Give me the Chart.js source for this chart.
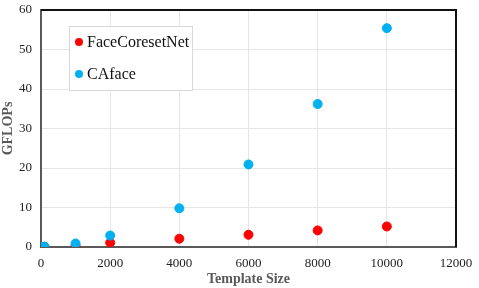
<!DOCTYPE html>
<html>
<head>
<meta charset="utf-8">
<script src="https://cdn.jsdelivr.net/npm/chart.js@4"></script>
<style>
  html, body { margin: 0; padding: 0; background: #fff; }
  #wrap { width: 479px; height: 288px; }
</style>
</head>
<body>
<div id="wrap"><canvas id="gflopsChart" width="479" height="288"></canvas></div>
<script>
// ==================== DATA ====================
const templateSizes = [1, 100, 1000, 2000, 4000, 6000, 8000, 10000];
const coresetGflops = [0.0, 0.05, 0.3, 1.1, 2.1, 3.1, 4.2, 5.2];
const cafaceGflops  = [0.0, 0.1, 0.9, 2.9, 9.8, 20.9, 36.2, 55.4];
const seriesNames = ['FaceCoresetNet', 'CAface'];
const seriesColors = ['#ff0000', '#00b0f0'];

const toPoints = (ys) => templateSizes.map((x, i) => ({ x: x, y: ys[i] }));

// ==================== PLUGINS ====================
// black frame on top/right of the plot area
const frame = {
    id: 'frame',
    beforeDatasetsDraw(chart) {
        const { ctx, chartArea: a } = chart;
        ctx.save();
        ctx.strokeStyle = '#111';
        ctx.lineWidth = 2;
        ctx.beginPath();
        ctx.moveTo(a.left, a.top);
        ctx.lineTo(a.right, a.top);
        ctx.lineTo(a.right, a.bottom);
        ctx.stroke();
        ctx.restore();
    }
};

// legend box inside the plot area
const boxLegend = {
    id: 'boxLegend',
    afterDraw(chart) {
        const { ctx } = chart;
        const x = 69, y = 26, w = 123, h = 64;
        ctx.save();
        ctx.fillStyle = '#fff';
        ctx.fillRect(x, y, w, h);
        ctx.strokeStyle = '#d9d9d9';
        ctx.lineWidth = 1;
        ctx.strokeRect(x + 0.5, y + 0.5, w, h);
        ctx.font = '16px "Liberation Serif", "Times New Roman", serif';
        ctx.textBaseline = 'middle';
        chart.data.datasets.forEach((ds, i) => {
            const cy = y + 16 + i * 32;
            ctx.fillStyle = ds.backgroundColor;
            ctx.beginPath();
            ctx.arc(x + 10, cy, 4, 0, Math.PI * 2);
            ctx.fill();
            ctx.fillStyle = '#111';
            ctx.fillText(ds.label, x + 18, cy + 1);
        });
        ctx.restore();
    }
};

// ==================== CHART ====================
const tickFont = { family: '"Liberation Serif", "Times New Roman", serif', size: 13 };
const titleFont = { family: '"Liberation Serif", "Times New Roman", serif', size: 14, weight: 'bold' };

const ctx = document.getElementById('gflopsChart').getContext('2d');
const gflopsChart = new Chart(ctx, {
    type: 'scatter',
    data: {
        datasets: [
            { label: seriesNames[0], data: toPoints(coresetGflops), order: 1, backgroundColor: seriesColors[0], borderColor: seriesColors[0], pointRadius: 4.5, pointHoverRadius: 4.5 },
            { label: seriesNames[1], data: toPoints(cafaceGflops), order: 0, backgroundColor: seriesColors[1], borderColor: seriesColors[1], pointRadius: 4.5, pointHoverRadius: 4.5 }
        ]
    },
    options: {
        responsive: false,
        animation: false,
        layout: { padding: { left: 0, right: 23, top: 10, bottom: 0 } },
        plugins: {
            legend: { display: false },
            tooltip: { enabled: false }
        },
        scales: {
            x: {
                type: 'linear',
                min: 0, max: 12000,
                ticks: { stepSize: 2000, color: '#222', font: tickFont, padding: 9, maxRotation: 0, callback: v => String(v) },
                grid: { color: '#e6e6e6', lineWidth: 1, drawTicks: false },
                border: { color: '#595959', width: 2 },
                title: { display: true, text: 'Template Size', color: '#595959', font: titleFont, padding: { top: 0, bottom: 0 } },
                afterFit: (s) => { s.height = 41; s.paddingLeft = 0; s.paddingRight = 0; }
            },
            y: {
                min: 0, max: 60,
                ticks: { stepSize: 10, color: '#222', font: tickFont, padding: 9 },
                grid: { color: '#e6e6e6', lineWidth: 1, drawTicks: false },
                border: { color: '#595959', width: 2 },
                title: { display: true, text: 'GFLOPs', color: '#595959', font: titleFont, padding: { top: 0, bottom: 0 } },
                afterFit: (s) => { s.width = 41; s.paddingTop = 0; s.paddingBottom = 0; }
            }
        }
    },
    plugins: [frame, boxLegend]
});
</script>
</body>
</html>
